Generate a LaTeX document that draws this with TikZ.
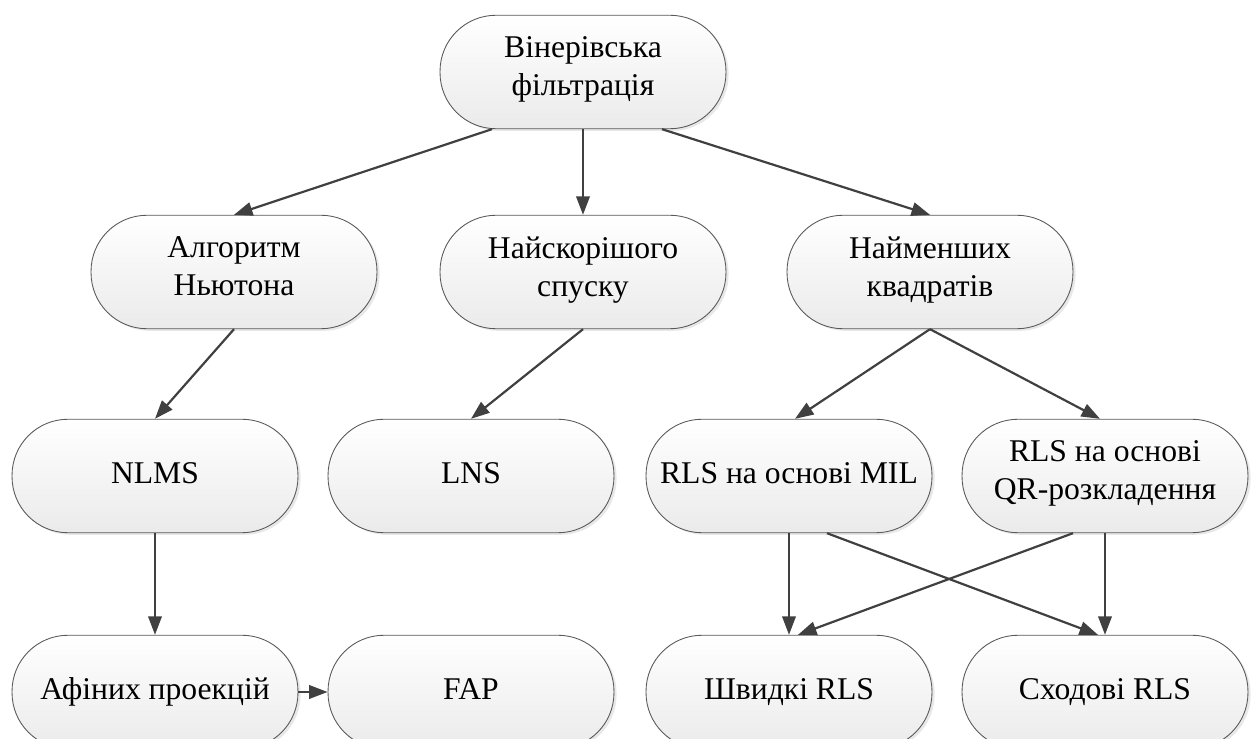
\documentclass[tikz,border=0pt]{standalone}
\usepackage{fontspec}
\setmainfont{Liberation Serif}
\usetikzlibrary{positioning,shapes,arrows.meta,calc,shadows}

\begin{document}
\begin{tikzpicture}[x=0.02cm,y=-0.02cm,
		blok/.style={rectangle,draw=black!65,line width=0.5pt,rounded corners=1.12cm,
			minimum width=5.72cm,minimum height=2.27cm,inner sep=0pt,align=center,
			top color=white,bottom color=black!8,
			drop shadow={shadow xshift=1.5pt,shadow yshift=-1.2pt,opacity=0.18},
			execute at begin node=\strut,execute at end node=\strut,
			font=\fontsize{18}{21.5}\selectfont},
		strilka/.style={-{Triangle[length=0.37cm,width=0.27cm]},line width=1.25pt,draw=black!75,fill=black!75}]
		\def\W{1252}
		\def\H{739}
		\def\ra{72}
		\def\rb{272}
		\def\rc{476}
		\def\rd{692}
		\useasboundingbox (0,0) rectangle (\W,\H);
		\clip (0,0) rectangle (\W,\H);
		%nodes
		\node[blok] (vin) at (583,\ra) {Вінерівська\\фільтрація};
		\node[blok] (nyut) at (234,\rb) {Алгоритм\\Ньютона};
		\node[blok] (spusk) at (583,\rb) {Найскорішого\\спуску};
		\node[blok] (kvad) at (930,\rb) {Найменших\\квадратів};
		\node[blok] (nlms) at (155,\rc) {NLMS};
		\node[blok] (lns) at (471,\rc) {LNS};
		\node[blok] (mil) at (789,\rc) {RLS на основі MIL};
		\node[blok] (qr) at (1105,\rc) {RLS на основі\\QR-розкладення};
		\node[blok] (afin) at (155,\rd) {Афіних проекцій};
		\node[blok] (fap) at (471,\rd) {FAP};
		\node[blok] (shv) at (789,\rd) {Швидкі RLS};
		\node[blok] (shod) at (1105,\rd) {Сходові RLS};
		%arrows
		\draw[strilka] ($(vin.south)+(-91,0)$) -- (nyut.north);
		\draw[strilka] (vin.south) -- (spusk.north);
		\draw[strilka] ($(vin.south)+(79,0)$) -- (kvad.north);
		\draw[strilka] (nyut.south) -- (nlms.north);
		\draw[strilka] (spusk.south) -- (lns.north);
		\draw[strilka] (kvad.south) -- ($(mil.north)+(6,0)$);
		\draw[strilka] (kvad.south) -- ($(qr.north)+(-5,0)$);
		\draw[strilka] (nlms.south) -- (afin.north);
		\draw[strilka] (afin.east) -- (fap.west);
		\draw[strilka] (mil.south) -- (shv.north);
		\draw[strilka] ($(mil.south)+(38,0)$) -- ($(shod.north)+(-7,0)$);
		\draw[strilka] (qr.south) -- (shod.north);
		\draw[strilka] ($(qr.south)+(-32,0)$) -- ($(shv.north)+(9,0)$);
	\end{tikzpicture}
\end{document}
